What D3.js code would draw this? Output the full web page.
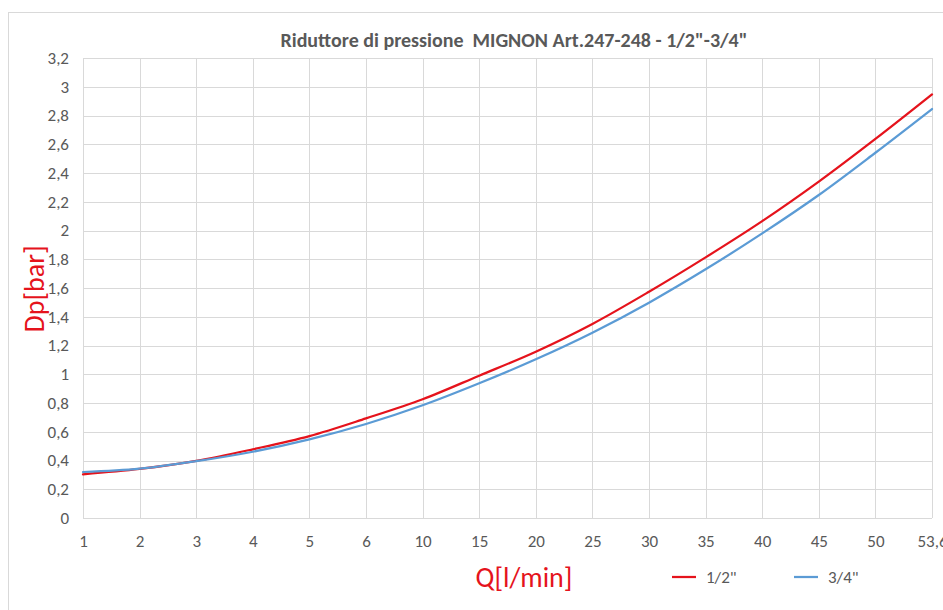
<!DOCTYPE html>
<html>
<head>
<meta charset="utf-8">
<script src="https://cdn.jsdelivr.net/npm/d3@7"></script>
<style>
  html, body { margin: 0; padding: 0; background: #fff; }
  svg { display: block; }
  text { font-family: Carlito, Calibri, "Open Sans", "Noto Sans", sans-serif; }
</style>
</head>
<body>
<svg id="chart" width="943" height="610"></svg>
<script>
const categories = ["1","2","3","4","5","6","10","15","20","25","30","35","40","45","50","53,6"];
const seriesHalf = [0.304,0.341,0.397,0.478,0.570,0.693,0.826,0.990,1.157,1.350,1.574,1.813,2.065,2.340,2.637,2.947];
const seriesThreeQuarter = [0.320,0.343,0.395,0.461,0.547,0.654,0.784,0.937,1.104,1.289,1.498,1.730,1.980,2.247,2.541,2.845];
const yTicks = [0,0.2,0.4,0.6,0.8,1,1.2,1.4,1.6,1.8,2,2.2,2.4,2.6,2.8,3,3.2];
const seriesNames = ['1/2"', '3/4"'];
const seriesColors = ["#e5131c", "#5b9bd5"];
const titleText = 'Riduttore di pressione  MIGNON Art.247-248 - 1/2"-3/4"';

const svg = d3.select("#chart");
const W = 943, H = 610;
const plot = {left: 83, right: 932, top: 58, bottom: 518};
const FONT = 'Carlito, Calibri, "Open Sans", sans-serif';

// chart border
svg.append("rect").attr("x", 8.5).attr("y", 12.5).attr("width", W).attr("height", H)
  .attr("fill", "#fff").attr("stroke", "#d9d9d9").attr("stroke-width", 1);

const x = d3.scalePoint().domain(categories).range([plot.left, plot.right]);
const y = d3.scaleLinear().domain([0, 3.2]).range([plot.bottom, plot.top]);

// horizontal grid
svg.append("g").selectAll("line").data(yTicks).join("line")
  .attr("x1", plot.left).attr("x2", plot.right)
  .attr("y1", d => Math.round(y(d)) + 0.5).attr("y2", d => Math.round(y(d)) + 0.5)
  .attr("stroke", "#d9d9d9").attr("stroke-width", 1);
// vertical grid
svg.append("g").selectAll("line").data(categories).join("line")
  .attr("x1", d => Math.round(x(d)) + 0.5).attr("x2", d => Math.round(x(d)) + 0.5)
  .attr("y1", plot.top).attr("y2", plot.bottom)
  .attr("stroke", "#d9d9d9").attr("stroke-width", 1);

// y axis labels
const fmt = d => String(+d.toFixed(1)).replace(".", ",");
const yAxis = d3.axisLeft(y).tickValues(yTicks).tickFormat(fmt).tickSize(0).tickPadding(14);
const gy = svg.append("g").attr("transform", `translate(${plot.left},0)`).call(yAxis);
gy.select(".domain").remove();
gy.selectAll("text").attr("fill", "#595959").style("font-size", "17px").style("font-family", FONT);

// x axis labels
const xAxis = d3.axisBottom(x).tickSize(0).tickPadding(17);
const gx = svg.append("g").attr("transform", `translate(0,${plot.bottom})`).call(xAxis);
gx.select(".domain").remove();
gx.selectAll("text").attr("fill", "#595959").style("font-size", "17px").style("font-family", FONT);

// lines
const line = d3.line()
  .x((d, i) => x(categories[i]))
  .y(d => y(d))
  .curve(d3.curveCatmullRom.alpha(0.5));
[seriesHalf, seriesThreeQuarter].forEach((s, k) => {
  svg.append("path").datum(s).attr("d", line)
    .attr("fill", "none").attr("stroke", seriesColors[k]).attr("stroke-width", 2.25)
    .attr("stroke-linecap", "round");
});

// title
svg.append("text").attr("x", 514).attr("y", 47).attr("text-anchor", "middle")
  .attr("fill", "#595959").style("font-size", "20px").style("font-weight", "bold")
  .attr("xml:space", "preserve").style("white-space", "pre")
  .text(titleText);

// axis titles
svg.append("text").attr("transform", "translate(44,289) rotate(-90)").attr("text-anchor", "middle")
  .attr("fill", "#e5131c").style("font-size", "28px").text("Dp[bar]");
svg.append("text").attr("x", 524).attr("y", 587).attr("text-anchor", "middle")
  .attr("fill", "#e5131c").style("font-size", "28px").text("Q[l/min]");

// legend
const legendX = [672, 794];
seriesNames.forEach((n, k) => {
  svg.append("line").attr("x1", legendX[k]).attr("x2", legendX[k] + 24)
    .attr("y1", 577).attr("y2", 577).attr("stroke", seriesColors[k]).attr("stroke-width", 2.25);
  svg.append("text").attr("x", legendX[k] + 34).attr("y", 583)
    .attr("fill", "#595959").style("font-size", "17px").text(n);
});
</script>
</body>
</html>
